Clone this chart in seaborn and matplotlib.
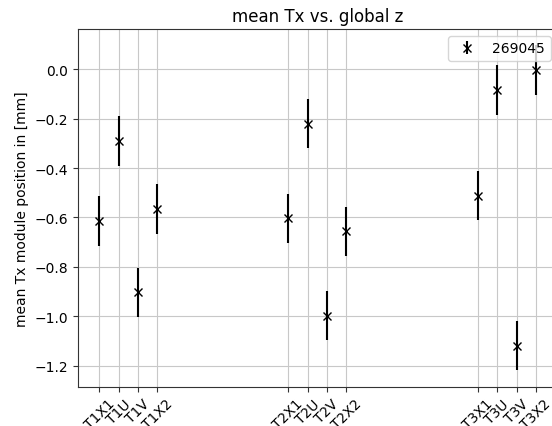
import seaborn as sns
import pandas as pd
import matplotlib.pyplot as plt

# module names and global z of each layer [mm]
modules = ["T1X1", "T1U", "T1V", "T1X2",
           "T2X1", "T2U", "T2V", "T2X2",
           "T3X1", "T3U", "T3V", "T3X2"]
z_pos = [7826, 7896, 7966, 8036,
         8508, 8578, 8648, 8718,
         9193, 9263, 9333, 9403]
mean_tx = [-0.614, -0.290, -0.903, -0.566,
           -0.604, -0.220, -0.998, -0.657,
           -0.512, -0.084, -1.120, -0.002]
err_tx = [0.10, 0.10, 0.10, 0.10,
          0.10, 0.10, 0.10, 0.10,
          0.10, 0.10, 0.10, 0.10]
run_label = "269045"

df = pd.DataFrame({"module": modules, "z": z_pos, "mean": mean_tx, "err": err_tx})

sns.set_style("ticks", {"axes.grid": True, "grid.color": "#c8c8c8",
                        "axes.edgecolor": "#333333", "xtick.color": "#333333",
                        "ytick.color": "#333333", "text.color": "black",
                        "axes.labelcolor": "black"})
plt.rcParams["font.family"] = ["DejaVu Sans"]
plt.rcParams["xtick.major.size"] = 3.5
plt.rcParams["ytick.major.size"] = 3.5
plt.rcParams["xtick.labelcolor"] = "black"
plt.rcParams["ytick.labelcolor"] = "black"
plt.rcParams["grid.linewidth"] = 0.8

fig = plt.figure(figsize=(5.52, 4.27), dpi=100)
ax = fig.add_axes([0.1404, 0.092, 0.870, 0.838])

ax.errorbar(df["z"], df["mean"], yerr=df["err"], fmt="x", color="k",
            label=run_label)

ax.set_xticks(df["z"])
ax.set_xticklabels(df["module"], rotation=45)
ax.set_title("mean Tx vs. global z")
ax.set_ylabel("mean Tx module position in [mm]")
ax.legend(loc="upper right")

fig.savefig("out.png", dpi=100)
